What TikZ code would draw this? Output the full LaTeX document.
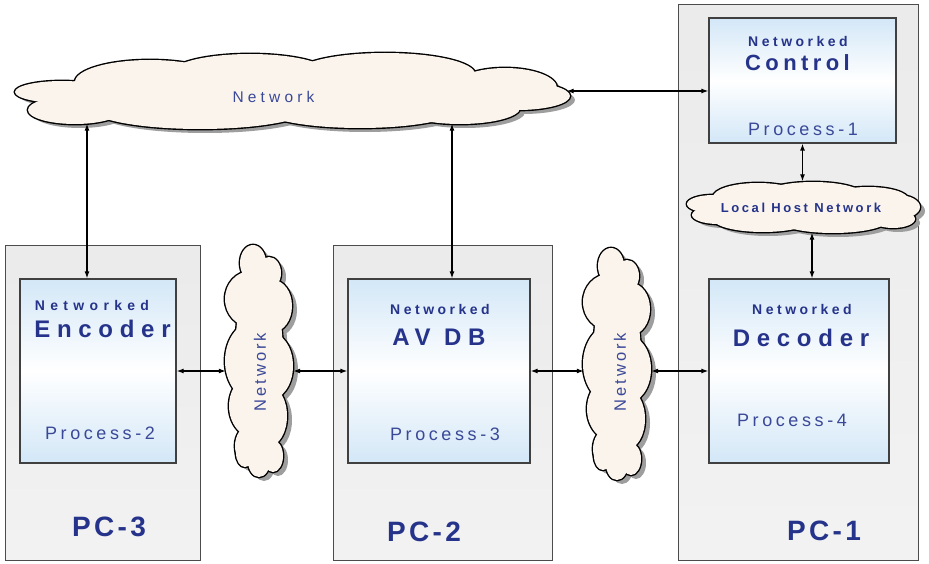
\documentclass[tikz,border=0pt]{standalone}
\usepackage{fontspec}
\setmainfont{Liberation Sans}
\usetikzlibrary{arrows.meta,calc}
\definecolor{navy}{HTML}{25338A}
\definecolor{proc}{HTML}{3A4898}
\definecolor{cloudfill}{HTML}{FBF4EC}
\definecolor{lblue}{HTML}{D3E7F7}
\newcommand\mycloud[2]{%
  \edef\mycloudlist{#2}%
  \begin{scope}[shift={#1}]
    \foreach \cx/\cy/\ca/\cb in \mycloudlist \fill[black!38] (\cx+5,\cy+4) ellipse [x radius=\ca, y radius=\cb];
    \foreach \cx/\cy/\ca/\cb in \mycloudlist \draw[line width=2.8pt] (\cx,\cy) ellipse [x radius=\ca, y radius=\cb];
    \foreach \cx/\cy/\ca/\cb in \mycloudlist \fill[cloudfill] (\cx,\cy) ellipse [x radius=\ca, y radius=\cb];
  \end{scope}}
\def\vcloudlist{-6/-98/13/18, 10/-88/12/16, -8/-62/26/28, 14/-55/19/26, -4/0/30/40, 10/5/24/34, -4/45/26/32, 10/55/18/30, -10/85/14/20, 0/100/11/16, 14/95/10/16, -14/92/9/14, 0/0/24/95}
\begin{document}
\begin{tikzpicture}[x=1pt,y=-1pt,
  pcbox/.style={draw=black!70, line width=1pt, rectangle, top color=black!8, bottom color=black!5, inner sep=0pt},
  procbox/.style={draw=black!75, line width=1.2pt, rectangle, top color=lblue, bottom color=lblue, middle color=white, inner sep=0pt},
  area/.style={rectangle, inner sep=0pt},
  arr/.style={{Latex[length=7pt,width=5pt]}-{Latex[length=7pt,width=5pt]}, line width=1.2pt},
  nwtext/.style={text=navy, inner sep=0pt, font=\fontsize{14}{16}\selectfont\bfseries\addfontfeature{LetterSpace=#1}},
  nwtext/.default=25,
  titletext/.style={text=navy, inner sep=0pt, font=\fontsize{24}{28}\selectfont\bfseries\addfontfeature{LetterSpace=28}},
  proctext/.style={text=proc, inner sep=0pt, font=\fontsize{18}{20}\selectfont\addfontfeature{LetterSpace=20}},
  pctext/.style={text=navy, inner sep=0pt, font=\fontsize{28}{32}\selectfont\bfseries\addfontfeature{LetterSpace=12}},
  cloudtext/.style={text=proc, inner sep=0pt, font=\fontsize{#1}{18}\selectfont\addfontfeature{LetterSpace=18}},
]
\useasboundingbox (0,0) rectangle (929,564);
\fill[white] (0,0) rectangle (929,564);

% PC boxes
\node[pcbox, minimum width=195pt, minimum height=314pt] (pc3) at (102.5,403) {};
\node[pcbox, minimum width=219pt, minimum height=314pt] (pc2) at (442.5,403) {};
\node[pcbox, minimum width=240pt, minimum height=555pt] (pc1) at (798,282.5) {};

% clouds (drawn shapes) with named areas for anchors
\mycloud{(292,91)}{-230/1/47/11, -217/19/47/14, -142/-9/75/22, -42/-17/80/20, 93/-17/90/21, 213/-3/52/20, 226/5/52/14, -92/17/110/21, 68/17/100/20, 168/17/60/16, 0/1/240/25}
\node[area, minimum width=555pt, minimum height=77pt] (tc) at (292,91) {};

\mycloud{(259,361)}{\vcloudlist}
\node[area, minimum width=68pt, minimum height=233pt] (cl1) at (259,361) {};
\mycloud{(617,364)}{\vcloudlist}
\node[area, minimum width=68pt, minimum height=233pt] (cl2) at (617,364) {};

\mycloud{(803,207)}{-90/-3/26/9, -85/8/26/9, -45/-10/45/14, 10/-12/50/13, 65/-8/40/12, 95/0/22/12, 90/12/22/9, -40/12/50/13, 30/13/55/13, 0/0/95/14}
\node[area, minimum width=233pt, minimum height=51pt] (lhn) at (803,207) {};

% process boxes
\node[procbox, minimum width=156pt, minimum height=184pt] (enc) at (98,371) {};
\node[procbox, minimum width=182pt, minimum height=184pt] (avdb) at (439,371) {};
\node[procbox, minimum width=180pt, minimum height=184pt] (dec) at (799,371) {};
\node[procbox, minimum width=187pt, minimum height=125pt] (ctrl) at (802.5,80.5) {};

% texts
\node[text=proc, inner sep=0pt, font=\fontsize{15.5}{18}\selectfont\addfontfeature{LetterSpace=27}] (tctext) at (273.5,97) {Network};
\node[cloudtext=16.5, rotate=90] (cl1text) at (260,372) {Network};
\node[cloudtext=16.5, rotate=90] (cl2text) at (620,372) {Network};
\node[text=navy, inner sep=0pt, font=\fontsize{13}{15}\selectfont\bfseries\addfontfeature{LetterSpace=20}] (lhntext) at (801,207.5) {Local Host Network};

\node[nwtext=38] (encnw) at (92,305) {Networked};
\node[titletext] (enct) at (102.5,329) {Encoder};
\node[proctext] (encp) at (100,433.5) {Process-2};
\node[pctext] (pc3t) at (109,527) {PC-3};

\node[nwtext] (avnw) at (440,309) {Networked};
\node[titletext] (avt) at (439,337) {AV DB};
\node[proctext] (avp) at (445,434) {Process-3};
\node[pctext] (pc2t) at (424,532) {PC-2};

\node[nwtext] (decnw) at (802,309) {Networked};
\node[titletext] (dect) at (801,338) {Decoder};
\node[proctext] (decp) at (792,420) {Process-4};
\node[pctext] (pc1t) at (824,531) {PC-1};

\node[nwtext] (ctrlnw) at (798,41) {Networked};
\node[text=navy, inner sep=0pt, font=\fontsize{22}{26}\selectfont\bfseries\addfontfeature{LetterSpace=20}] (ctrlt) at (797.5,63) {Control};
\node[proctext] (ctrlp) at (803,129.5) {Process-1};

% connectors
\draw[arr] ([xshift=-11pt]enc.north) -- ([xshift=-11pt,yshift=6pt]enc.north |- tc.south);
\draw[arr] ([xshift=13pt]avdb.north) -- ([xshift=13pt,yshift=6pt]avdb.north |- tc.south);
\draw[arr] ([xshift=-3pt]tc.east) -- (tc.east -| ctrl.west);
\draw[arr] (ctrl.south) -- (ctrl.south |- lhn.north);
\draw[arr] ([xshift=9pt]lhn.south) -- ([xshift=9pt]lhn.south |- dec.north);
\draw[arr] (enc.east) -- ([xshift=1pt]enc.east -| cl1.west);
\draw[arr] (cl1.east |- avdb.west) -- (avdb.west);
\draw[arr] (avdb.east) -- ([xshift=1pt]avdb.east -| cl2.west);
\draw[arr] (cl2.east |- dec.west) -- (dec.west);
\end{tikzpicture}
\end{document}
